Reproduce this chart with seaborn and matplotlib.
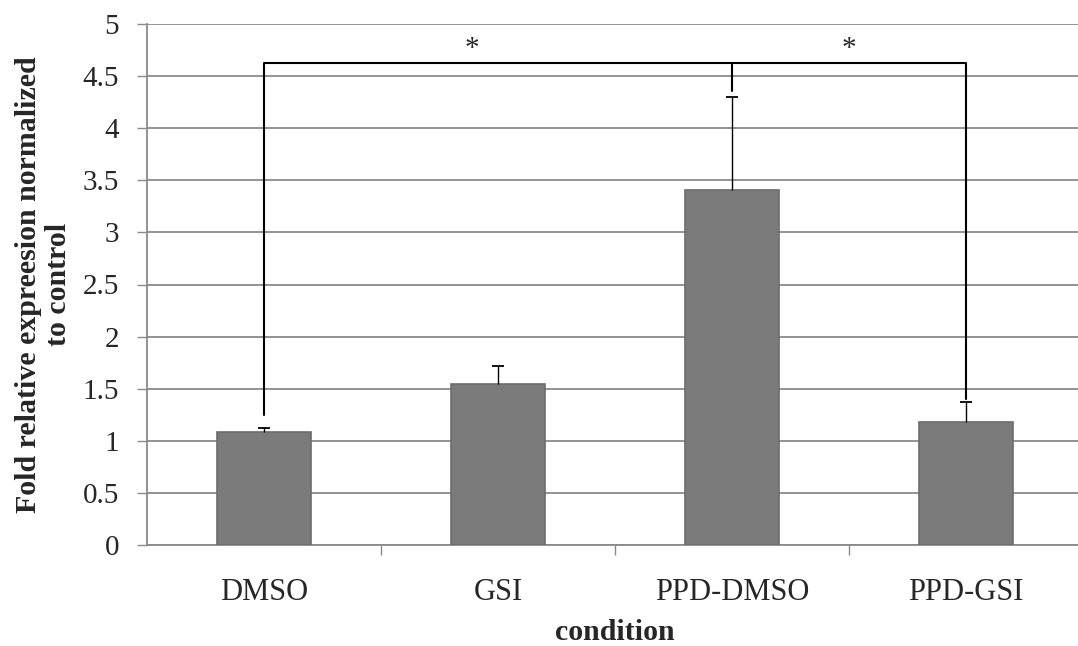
import matplotlib
matplotlib.use("Agg")
import matplotlib.pyplot as plt
import numpy as np
import pandas as pd
import seaborn as sns

# ─── Data ─────────────────────────────────────────────────────────────────────
conditions = ["DMSO", "GSI", "PPD-DMSO", "PPD-GSI"]
fold_mean = [1.08, 1.545, 3.41, 1.18]
fold_err_up = [0.045, 0.175, 0.89, 0.19]
y_ticks = [0, 0.5, 1, 1.5, 2, 2.5, 3, 3.5, 4, 4.5, 5]
y_tick_labels = ["0", "0.5", "1", "1.5", "2", "2.5", "3", "3.5", "4", "4.5", "5"]

# significance brackets
bracket_y = 4.63
bracket_legs = [(0, 1.25), (2, 4.36), (3, 1.40)]   # (category idx, leg bottom)
star_x = [0.89, 2.5]
star_y = 4.76

df = pd.DataFrame({"condition": conditions, "fold": fold_mean})

# ─── Style ────────────────────────────────────────────────────────────────────
sns.set_style("white")
plt.rcParams["font.family"] = ["Liberation Serif", "DejaVu Serif"]

fig = plt.figure(figsize=(10.78, 6.46), dpi=100)
ax = fig.add_axes([147 / 1078, 1 - 545 / 646, (1083 - 147) / 1078, (545 - 24) / 646])

sns.barplot(data=df, x="condition", y="fold", color="#7b7b7b", width=0.4,
            edgecolor="#6c6c6c", linewidth=1.2, saturation=1, ax=ax, zorder=3)

# upper-only error bars: stem from bar top, cap at the end
x_pos = np.arange(len(conditions))
err_top = np.array(fold_mean) + np.array(fold_err_up)
ax.vlines(x_pos, fold_mean, err_top, color="black", lw=1.0, zorder=4)
ax.scatter(x_pos, err_top, marker="_", s=70, color="black", linewidths=1.3,
           zorder=4)

# ── Significance brackets ─────────────────────────────────────────────────────
ax.plot([0, 3], [bracket_y, bracket_y], color="black", lw=1.5, zorder=5,
        solid_capstyle="butt")
for idx, bottom in bracket_legs:
    ax.plot([idx, idx], [bottom, bracket_y], color="black", lw=1.5, zorder=5)
for sx in star_x:
    ax.text(sx, star_y, "*", ha="center", va="center", fontsize=21, zorder=6)

# ── Axes ──────────────────────────────────────────────────────────────────────
ax.set_ylim(0, 5)
ax.set_xlim(-0.5, 3.5)
ax.set_yticks(y_ticks)
ax.set_yticklabels(y_tick_labels, fontsize=21)
ax.yaxis.grid(True, color="#8a8a8a", linewidth=1.3, zorder=0)
ax.set_axisbelow(True)
ax.tick_params(axis="y", direction="out", length=7, width=1.0, color="#8a8a8a",
               pad=13, left=True)

ax.set_xticks(x_pos)
ax.set_xticklabels(conditions, fontsize=22)
ax.set_xticks([0.5, 1.5, 2.5], minor=True)
ax.tick_params(axis="x", which="major", length=0, pad=24)
ax.tick_params(axis="x", which="minor", direction="out", length=7, width=1.0,
               color="#8a8a8a", bottom=True)

for side in ["top", "right"]:
    ax.spines[side].set_visible(False)
ax.spines["left"].set_color("#8a8a8a")
ax.spines["left"].set_linewidth(1.3)
ax.spines["bottom"].set_color("#8a8a8a")
ax.spines["bottom"].set_linewidth(1.3)

ax.set_ylabel("Fold relative expreesion normalized\nto control",
              fontsize=21.5, fontweight="bold", labelpad=8, linespacing=1.12)
ax.set_xlabel("condition", fontsize=21.5, fontweight="bold", labelpad=8.5)

fig.savefig("out.png", dpi=100)
